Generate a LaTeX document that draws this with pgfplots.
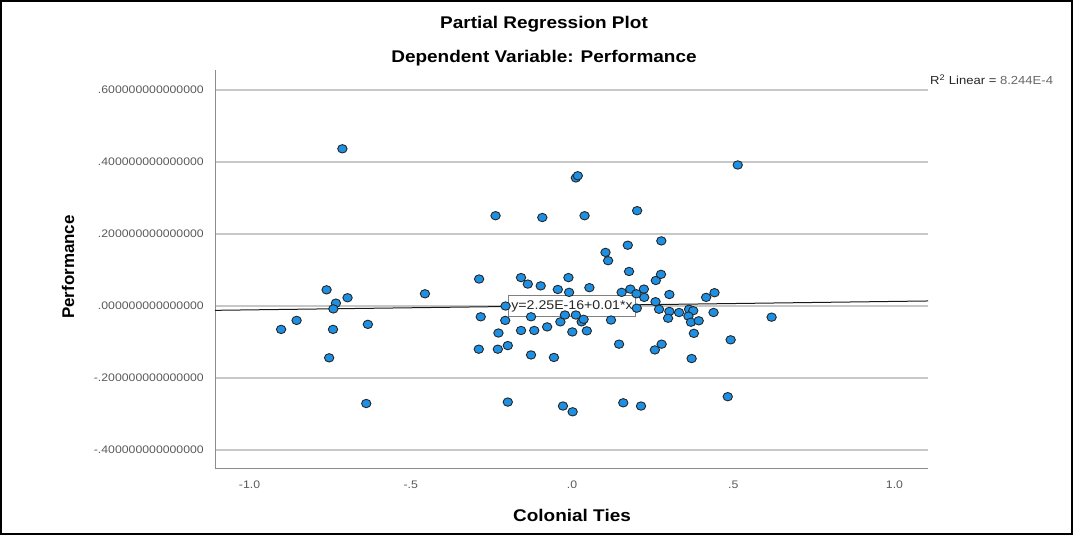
\documentclass[border=0pt]{standalone}
\usepackage{pgfplots}
\pgfplotsset{compat=1.18}
\usepackage{fontspec}
\setmainfont{Liberation Sans}
\usepackage{graphicx}
\definecolor{spssblue}{RGB}{30,144,228}
\newcommand{\sx}[1]{\scalebox{1.12}[1]{#1}}
\begin{document}
\begin{tikzpicture}
\useasboundingbox (0,0) rectangle (1073bp,535bp);
\draw[line width=2bp] (1bp,1bp) rectangle (1072bp,534bp);
\begin{axis}[
  at={(215bp,66bp)}, anchor=south west,
  scale only axis, width=713bp, height=399bp,
  xmin=-1.107, xmax=1.104, ymin=-0.453, ymax=0.656,
  axis x line*=bottom, axis y line*=left,
  axis line style={draw=black!45, line width=1bp},
  ytick={-0.4,-0.2,0,0.2,0.4,0.6},
  yticklabels={\sx{-.400000000000000},\sx{-.200000000000000},\sx{.000000000000000},\sx{.200000000000000},\sx{.400000000000000},\sx{.600000000000000}},
  xtick={-1,-0.5,0,0.5,1},
  xticklabels={\sx{-1.0},\sx{-.5},\sx{.0},\sx{.5},\sx{1.0}},
  tick style={draw=none},
  ymajorgrids, grid style={draw=black!22, line width=1.3bp},
  yticklabel style={anchor=east, inner sep=0pt, xshift=-11bp, font=\fontsize{11}{13}\selectfont, text=black!65},
  xticklabel style={anchor=base, inner sep=0pt, yshift=-19.5bp, font=\fontsize{11}{13}\selectfont, text=black!65},
  clip=false,
]
\addplot[black!90, line width=1bp] coordinates {(-1.107,-0.012) (1.104,0.014)};
\addplot[only marks, mark=*, mark size=4.2bp, mark options={fill=spssblue, draw=black!85, line width=0.9bp, xscale=1.12}] coordinates {
(-0.712,0.437) (-0.761,0.045) (-0.696,0.023) (-0.732,0.008) (-0.740,-0.008)
(-0.456,0.034) (-0.854,-0.040) (-0.902,-0.065) (-0.741,-0.065) (-0.633,-0.051)
(-0.753,-0.144) (-0.638,-0.271) (0.012,0.356) (0.018,0.362) (-0.237,0.251)
(-0.092,0.246) (0.039,0.251) (0.202,0.265) (0.277,0.181) (0.173,0.169)
(0.104,0.149) (0.112,0.126) (-0.288,0.075) (-0.158,0.079) (-0.137,0.061)
(-0.097,0.056) (-0.011,0.079) (-0.044,0.046) (0.054,0.051) (-0.009,0.038)
(0.177,0.096) (0.260,0.071) (0.276,0.088) (0.154,0.038) (0.181,0.047)
(0.223,0.047) (0.224,0.024) (0.200,0.034) (0.302,0.032) (0.259,0.012)
(0.270,-0.009) (0.302,-0.015) (0.298,-0.034) (0.332,-0.018) (0.363,-0.009)
(0.376,-0.013) (0.361,-0.028) (0.369,-0.045) (0.393,-0.041) (0.439,-0.018)
(0.416,0.024) (0.442,0.037) (0.619,-0.031) (0.514,0.392) (0.378,-0.076)
(0.492,-0.094) (0.483,-0.252) (0.371,-0.146) (0.257,-0.122) (0.278,-0.106)
(0.146,-0.106) (0.214,-0.278) (0.159,-0.269) (0.002,-0.294) (-0.028,-0.278)
(-0.199,-0.267) (-0.056,-0.143) (-0.127,-0.136) (-0.199,-0.110) (-0.230,-0.120)
(-0.289,-0.120) (-0.228,-0.075) (-0.158,-0.068) (-0.117,-0.068) (-0.077,-0.058)
(-0.036,-0.044) (0.001,-0.072) (0.030,-0.044) (0.036,-0.037) (0.046,-0.069)
(0.121,-0.039) (-0.283,-0.030) (-0.207,-0.040) (-0.206,0.000) (-0.127,-0.030)
(-0.022,-0.025) (0.012,-0.025) (0.201,-0.006)
};
\node[fill=white, draw=black!50, line width=0.8bp, inner xsep=3bp, inner ysep=0pt, minimum height=21bp, font=\fontsize{12.7}{14}\selectfont, text=black!85] at (axis cs:0,-0.001) {\sx{y=2.25E-16+0.01*x}};
\end{axis}
\node[anchor=base, inner sep=0pt, font=\bfseries\fontsize{17}{20}\selectfont] at (544bp,506.3bp) {\sx{Partial Regression Plot}};
\node[anchor=base, inner sep=0pt, font=\bfseries\fontsize{17}{20}\selectfont] at (544bp,472.3bp) {\sx{Dependent Variable: Performance}};
\node[anchor=base, inner sep=0pt, font=\bfseries\fontsize{17}{20}\selectfont] at (572bp,14bp) {\sx{Colonial Ties}};
\node[anchor=base, rotate=90, inner sep=0pt, font=\bfseries\fontsize{17}{20}\selectfont] at (74bp,268bp) {Performance};
\node[anchor=base west, inner sep=0pt, font=\fontsize{11.7}{13}\selectfont, text=black!85] at (930bp,450bp) {\sx{R\textsuperscript{2} Linear = \textcolor{black!60}{8.244E-4}}};
\end{tikzpicture}
\end{document}
